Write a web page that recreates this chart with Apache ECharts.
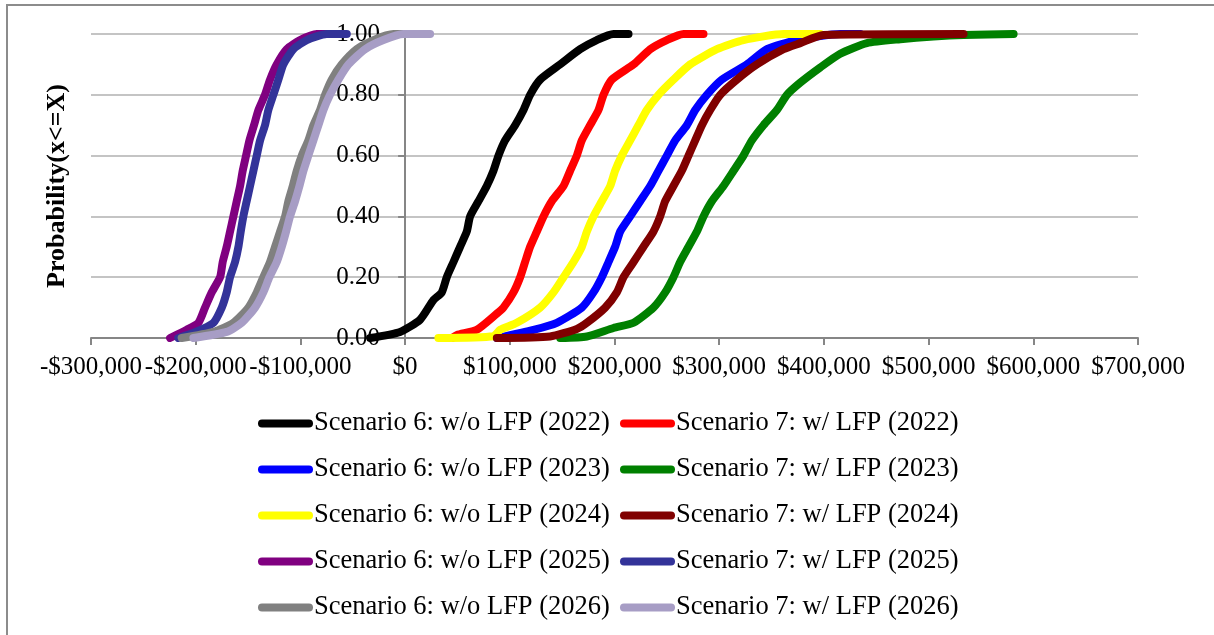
<!DOCTYPE html>
<html>
<head>
<meta charset="utf-8">
<title>Cumulative distribution of net value by scenario</title>
<script src="https://cdn.jsdelivr.net/npm/echarts@6/dist/echarts.min.js"></script>
<style>
  html, body { margin: 0; padding: 0; background: #ffffff; }
  #chart { width: 1214px; height: 635px; }
</style>
</head>
<body>
<div id="chart"></div>
<script>
// Axis ranges and ticks
const xMin = -300000, xMax = 700000, xStep = 100000;
const yMin = 0, yMax = 1, yStep = 0.2;
const yAxisTitle = 'Probability(x<=X)';

// Series names (legend order: Scenario 6 column, Scenario 7 column)
const names6 = [
  'Scenario 6: w/o LFP (2022)',
  'Scenario 6: w/o LFP (2023)',
  'Scenario 6: w/o LFP (2024)',
  'Scenario 6: w/o LFP (2025)',
  'Scenario 6: w/o LFP (2026)'
];
const names7 = [
  'Scenario 7: w/ LFP (2022)',
  'Scenario 7: w/ LFP (2023)',
  'Scenario 7: w/ LFP (2024)',
  'Scenario 7: w/ LFP (2025)',
  'Scenario 7: w/ LFP (2026)'
];

// Cumulative curves: [value ($), cumulative probability]
const s6_2022 = [[-33400,0],[-4800,0.02],[14300,0.06],[27100,0.125],[35000,0.15],[39800,0.2],[46200,0.25],[52500,0.3],[58900,0.35],[62100,0.4],[70100,0.45],[78000,0.5],[84400,0.55],[89200,0.6],[95500,0.65],[105100,0.7],[113100,0.75],[119400,0.8],[129000,0.85],[148100,0.9],[167200,0.95],[183100,0.98],[199000,1],[213400,1]];
const s7_2022 = [[45000,0],[49400,0.01],[68500,0.027],[87600,0.08],[93900,0.1],[103500,0.15],[109900,0.2],[114600,0.25],[119400,0.3],[125800,0.35],[132200,0.4],[140100,0.45],[151300,0.5],[157600,0.55],[164000,0.6],[168800,0.65],[176700,0.7],[184700,0.75],[189500,0.8],[197400,0.85],[218200,0.9],[234100,0.95],[250000,0.98],[265900,1],[285000,1]];
const s6_2023 = [[87600,0],[122600,0.027],[144900,0.05],[168800,0.1],[179900,0.15],[187900,0.2],[194300,0.25],[200600,0.3],[205400,0.35],[215000,0.4],[224500,0.45],[234100,0.5],[242000,0.55],[250000,0.6],[258000,0.65],[269100,0.7],[277100,0.75],[288200,0.8],[302500,0.85],[326500,0.9],[345600,0.95],[374200,0.98],[415600,1],[434700,1]];
const s7_2023 = [[148100,0],[173600,0.005],[199000,0.033],[218200,0.05],[237200,0.1],[248400,0.15],[256300,0.2],[262700,0.25],[270700,0.3],[278700,0.35],[285000,0.4],[293000,0.45],[304100,0.5],[313700,0.55],[323200,0.6],[331200,0.65],[342300,0.7],[355100,0.75],[364700,0.8],[377400,0.84],[396500,0.89],[415600,0.935],[441100,0.97],[472900,0.983],[504700,0.992],[533400,0.997],[581200,1]];
const s6_2024 = [[31800,0],[84400,0.006],[90800,0.027],[106700,0.05],[129000,0.1],[141700,0.15],[151300,0.2],[160800,0.25],[168800,0.3],[173600,0.35],[179900,0.4],[187900,0.45],[195900,0.5],[200600,0.55],[207000,0.6],[215000,0.65],[222900,0.7],[230900,0.75],[242000,0.8],[256300,0.85],[272300,0.9],[297800,0.95],[323200,0.98],[361400,1],[396500,1]];
const s7_2024 = [[87600,0],[138500,0.005],[164000,0.03],[173600,0.05],[191100,0.1],[202200,0.15],[208600,0.2],[218200,0.25],[227700,0.3],[237200,0.35],[243600,0.4],[248400,0.45],[256300,0.5],[264300,0.55],[270700,0.6],[277100,0.65],[283500,0.7],[291400,0.75],[301000,0.8],[316900,0.85],[336000,0.9],[361400,0.95],[377400,0.97],[399400,0.997],[533400,1]];
const s6_2025 = [[-224500,0],[-208600,0.027],[-197400,0.05],[-191100,0.1],[-184700,0.15],[-176700,0.2],[-174200,0.25],[-170400,0.3],[-167200,0.35],[-164000,0.4],[-160800,0.45],[-157600,0.5],[-155100,0.55],[-151900,0.6],[-148700,0.65],[-144300,0.7],[-140100,0.75],[-133800,0.8],[-129000,0.85],[-122600,0.9],[-113100,0.95],[-100300,0.98],[-84400,1],[-70000,1]];
const s7_2025 = [[-216600,0],[-200000,0.02],[-183100,0.05],[-175100,0.1],[-170400,0.15],[-167200,0.2],[-162400,0.25],[-159200,0.3],[-157000,0.35],[-154500,0.4],[-151300,0.45],[-148100,0.5],[-144900,0.55],[-141700,0.6],[-138500,0.65],[-133800,0.7],[-130600,0.75],[-125800,0.8],[-121000,0.85],[-116300,0.9],[-106700,0.95],[-93900,0.98],[-74800,1],[-55700,1]];
const s6_2026 = [[-213400,0],[-183100,0.02],[-164000,0.05],[-149700,0.1],[-141700,0.15],[-135400,0.2],[-129000,0.25],[-124200,0.3],[-119400,0.35],[-114600,0.4],[-111500,0.45],[-107300,0.5],[-103500,0.55],[-98700,0.6],[-92400,0.65],[-87600,0.7],[-81200,0.75],[-76400,0.8],[-70100,0.85],[-60500,0.9],[-46200,0.95],[-30300,0.98],[-11100,1],[3000,1]];
const s7_2026 = [[-202200,0],[-170400,0.02],[-156000,0.05],[-143300,0.1],[-135400,0.15],[-129600,0.2],[-122600,0.25],[-117800,0.3],[-113700,0.35],[-109900,0.4],[-105100,0.45],[-100900,0.5],[-97100,0.55],[-92400,0.6],[-87600,0.65],[-82800,0.7],[-78000,0.75],[-71700,0.8],[-63700,0.85],[-54100,0.9],[-38200,0.95],[-20700,0.98],[-1600,1],[23900,1]];

// Drawing order (later series on top)
const seriesDefs = [
  { name: names6[0], data: s6_2022, color: '#000000' },
  { name: names7[0], data: s7_2022, color: '#FF0000' },
  { name: names6[1], data: s6_2023, color: '#0000FF' },
  { name: names7[1], data: s7_2023, color: '#008000' },
  { name: names6[2], data: s6_2024, color: '#FFFF00' },
  { name: names7[2], data: s7_2024, color: '#800000' },
  { name: names6[3], data: s6_2025, color: '#800080' },
  { name: names7[3], data: s7_2025, color: '#333399' },
  { name: names6[4], data: s6_2026, color: '#808080' },
  { name: names7[4], data: s7_2026, color: '#A79DC5' }
];

const FONT = '"Liberation Serif", "Times New Roman", serif';

// Plot box
const GRID_LEFT = 91, GRID_TOP = 34, GRID_W = 1047, GRID_H = 304;
// The value axis is drawn where x = 0
const Y_AXIS_SHIFT = GRID_W * (0 - xMin) / (xMax - xMin);

function money(v) {
  if (v === 0) return '$0';
  const s = Math.abs(v).toLocaleString('en-US');
  return (v < 0 ? '-$' : '$') + s;
}

function legendBlock(data, left) {
  return {
    data: data,
    orient: 'vertical',
    left: left,
    top: 410,
    padding: 0,
    itemWidth: 47,
    itemHeight: 26,
    itemGap: 19,
    selectedMode: false,
    itemStyle: { opacity: 0, borderWidth: 0 },
    lineStyle: { width: 8, cap: 'round' },
    textStyle: { fontFamily: FONT, fontSize: 26.5, color: '#000000', padding: 0 }
  };
}

const chart = echarts.init(document.getElementById('chart'), null, { renderer: 'canvas' });

chart.setOption({
  animation: false,
  backgroundColor: '#ffffff',
  textStyle: { fontFamily: FONT },
  graphic: [{
    type: 'rect',
    z: -10,
    shape: { x: 7, y: 5, width: 1400, height: 800 },
    style: { fill: 'none', stroke: '#8c8c8c', lineWidth: 2 }
  }],
  grid: {
    left: GRID_LEFT, top: GRID_TOP, width: GRID_W, height: GRID_H,
    containLabel: false,
    outerBoundsMode: 'none'
  },
  xAxis: {
    type: 'value',
    min: xMin, max: xMax, interval: xStep,
    axisLine: { show: true, onZero: false, lineStyle: { color: '#868686', width: 2 } },
    axisTick: { show: true, length: 7, lineStyle: { color: '#868686', width: 2 } },
    splitLine: { show: false },
    axisLabel: {
      margin: 17,
      formatter: money,
      color: '#000000',
      fontFamily: FONT,
      fontSize: 25,
      hideOverlap: false,
      showMinLabel: true,
      showMaxLabel: true
    }
  },
  yAxis: {
    type: 'value',
    position: 'left',
    offset: -Y_AXIS_SHIFT,
    min: yMin, max: yMax, interval: yStep,
    name: yAxisTitle,
    nameLocation: 'middle',
    nameGap: 335,
    nameRotate: 90,
    nameTextStyle: { fontFamily: FONT, fontSize: 26, fontWeight: 'bold', color: '#000000' },
    axisLine: { show: true, onZero: false, lineStyle: { color: '#868686', width: 2 } },
    axisTick: { show: true, length: 7, lineStyle: { color: '#868686', width: 2 } },
    splitLine: { show: true, lineStyle: { color: '#c4c4c4', width: 2 } },
    axisLabel: {
      margin: 25,
      formatter: v => v.toFixed(2),
      color: '#000000',
      fontFamily: FONT,
      fontSize: 25
    }
  },
  legend: [legendBlock(names6, 258), legendBlock(names7, 620)],
  series: seriesDefs.map(d => ({
    name: d.name,
    type: 'line',
    data: d.data,
    showSymbol: false,
    symbol: 'none',
    smooth: 0.2,
    color: d.color,
    lineStyle: { color: d.color, width: 8, cap: 'round', join: 'round' },
    emphasis: { disabled: true }
  }))
});
</script>
</body>
</html>
